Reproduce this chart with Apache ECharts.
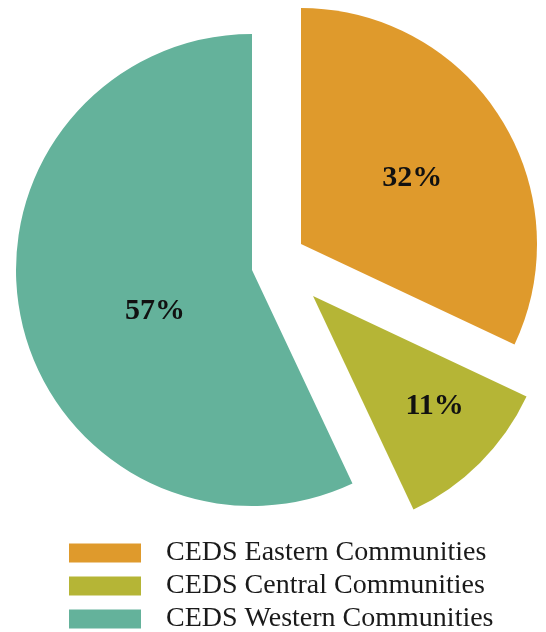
<!DOCTYPE html>
<html>
<head>
<meta charset="utf-8">
<script src="https://cdn.jsdelivr.net/npm/echarts@6/dist/echarts.min.js"></script>
<style>
  html, body { margin: 0; padding: 0; background: #fff; }
  #chart { width: 546px; height: 632px; }
</style>
</head>
<body>
<div id="chart"></div>
<script>
var categories = ['CEDS Eastern Communities', 'CEDS Central Communities', 'CEDS Western Communities'];
var shares = [32, 11, 57];
var colors = ['#DF9A2C', '#B5B536', '#64B29B'];

// each slice is pulled out by hand, so every slice gets its own pie centre
var sliceCenters = [[301, 244], [313, 296], [252, 270]];
var labelShift = [[9, -1], [36, 25], [21, 15]];

var chart = echarts.init(document.getElementById('chart'));

var series = categories.map(function (cat, i) {
    return {
        type: 'pie',
        center: sliceCenters[i],
        radius: 236,
        startAngle: 90,
        clockwise: true,
        avoidLabelOverlap: false,
        emphasis: { disabled: true },
        animation: false,
        data: categories.map(function (name, j) {
            return {
                name: name,
                value: shares[j],
                itemStyle: { color: colors[j], opacity: j === i ? 1 : 0 },
                label: { show: j === i }
            };
        }),
        label: {
            position: 'inside',
            formatter: '{c}%',
            fontFamily: 'Liberation Serif',
            fontWeight: 'bold',
            fontSize: 30,
            color: '#111'
        },
        labelLayout: { dx: labelShift[i][0], dy: labelShift[i][1] },
        labelLine: { show: false }
    };
});

var option = {
    legend: {
        orient: 'vertical',
        left: 69,
        top: 539,
        height: 200,
        padding: 0,
        itemWidth: 72,
        itemHeight: 19,
        itemGap: 5,
        icon: 'rect',
        selectedMode: false,
        textStyle: {
            fontFamily: 'Liberation Serif',
            fontSize: 28,
            color: '#1a1a1a',
            padding: [0, 0, 0, 20]
        },
        data: categories.map(function (name, j) {
            return { name: name, itemStyle: { color: colors[j], opacity: 1 } };
        })
    },
    series: series
};

chart.setOption(option);
</script>
</body>
</html>
